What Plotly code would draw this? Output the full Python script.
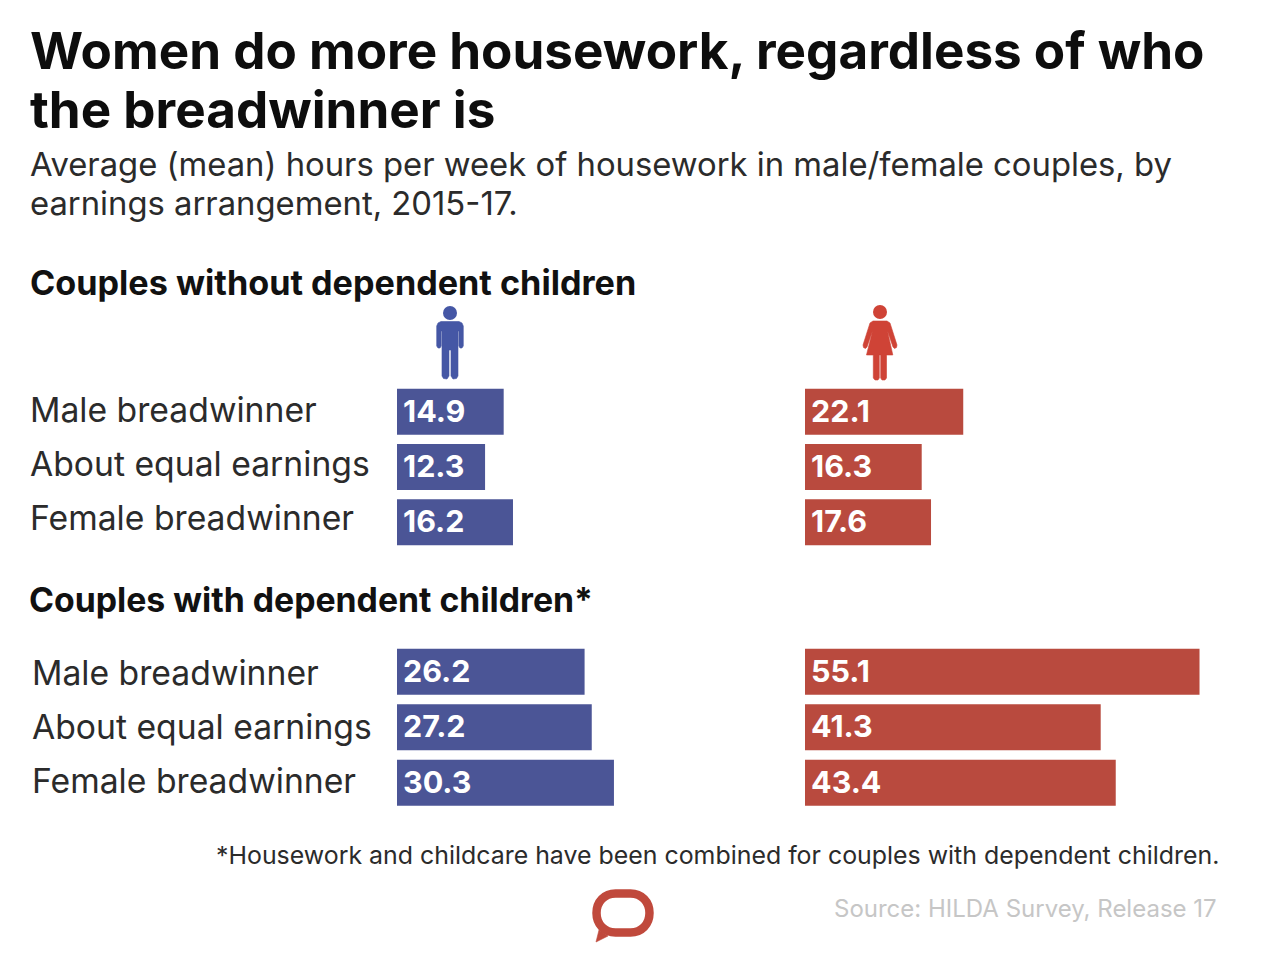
import plotly.graph_objects as go

W, H = 1280, 973
FONT = "Inter"
categories = ["Male breadwinner", "About equal earnings", "Female breadwinner"]
men_no_children = [14.9, 12.3, 16.2]
women_no_children = [22.1, 16.3, 17.6]
men_children = [26.2, 27.2, 30.3]
women_children = [55.1, 41.3, 43.4]
BLUE, RED = "#4b5596", "#b94a3e"

def fx(p): return p / W
def fy(p): return 1 - p / H

fig = go.Figure()
panels = [
    (men_no_children, "x", "y", BLUE),
    (women_no_children, "x2", "y", RED),
    (men_children, "x", "y2", BLUE),
    (women_children, "x2", "y2", RED),
]
ann = []
for vals, xa, ya, col in panels:
    fig.add_bar(x=vals, y=categories, orientation="h", xaxis=xa, yaxis=ya,
                marker=dict(color=col, line=dict(width=0)), width=0.83,
                showlegend=False, hoverinfo="skip")
    for c, v in zip(categories, vals):
        ann.append(dict(x=0, y=c, xref=xa, yref=ya, text=f"{v:.1f}", showarrow=False,
                        xanchor="left", yanchor="middle", xshift=4, yshift=1.5,
                        font=dict(family=FONT, size=30.5, color="white", weight=700)))

def T(x, y, s, size, color="#1c1c1c", bold=False, anchor="left"):
    return dict(x=fx(x + (-2.5 if anchor == "left" else 2.5)), y=fy(y), xref="paper", yref="paper",
                text=s, showarrow=False, xanchor=anchor, yanchor="middle", align="left",
                font=dict(family=FONT, size=size, color=color, weight=700 if bold else 400))

ann += [
    T(30, 50, "Women do more housework, regardless of who", 51.2, "#0d0d0d", True),
    T(30, 109, "the breadwinner is", 51.2, "#0d0d0d", True),
    T(30, 164, "Average (mean) hours per week of housework in male/female couples, by", 32.8, "#2b2b2b"),
    T(30, 203, "earnings arrangement, 2015-17.", 32.8, "#2b2b2b"),
    T(30, 283, "Couples without dependent children", 34.2, "#111111", True),
    T(29, 599.5, "Couples with dependent children*", 33.8, "#111111", True),
    T(1218, 855, "*Housework and childcare have been combined for couples with dependent children.", 24.9, "#2b2b2b", anchor="right"),
    T(1216, 908, "Source: HILDA Survey, Release 17", 24, "#c6c6c6", anchor="right"),
]
for c, yc in zip(categories, [409, 463, 517]):
    ann.append(T(30, yc, c, 33.7, "#2b2b2b"))
for c, yc in zip(categories, [672, 726, 780]):
    ann.append(T(32, yc, c, 33.7, "#2b2b2b"))

def P(*pts):
    return "M" + " L".join(f"{fx(a):.5f},{fy(b):.5f}" for a, b in pts) + " Z"

def circle(cx, cy, r, col):
    return dict(type="circle", xref="paper", yref="paper", x0=fx(cx-r), x1=fx(cx+r),
                y0=fy(cy+r), y1=fy(cy-r), fillcolor=col, line=dict(width=0))

def poly(col, *pts):
    return dict(type="path", xref="paper", yref="paper", path=P(*pts), fillcolor=col,
                line=dict(color=col, width=0.6), layer="above")

MC, WC = "#4557a5", "#cf4336"
shapes = [
    circle(450, 313, 7, MC),
    poly(MC, (441, 321.5), (459, 321.5), (462, 323), (463.3, 326), (463.3, 346), (462, 348),
         (460, 348), (458.8, 346), (458.8, 331), (458, 331), (458, 376), (456.5, 378.5), (453, 379),
         (451, 376), (451, 350), (449, 350), (449, 376), (447, 379), (443.5, 378.5), (442, 376),
         (442, 331), (441.2, 331), (441.2, 346), (440, 348), (438, 348), (436.7, 346), (436.7, 326),
         (438, 323)),
    circle(880, 312, 7, WC),
    poly(WC, (873, 321), (887, 321), (890, 323), (897, 345), (896.5, 347.5), (894.5, 348.5), (893, 347),
         (887.5, 331), (892.8, 355), (886.5, 355), (886.5, 378), (885, 380), (882, 380), (880.7, 378),
         (880.7, 355), (879.3, 355), (879.3, 378), (878, 380), (875, 380), (873.3, 378), (873.3, 355),
         (866.5, 355), (872.5, 331), (867, 347), (865.5, 348.5), (863.5, 347.5), (863, 345), (870, 323)),
]

# logo: speech bubble ring with tail
lc = "#c0493c"
def bubble(x0, y0, x1, y1, rx):
    ym = (y0 + y1) / 2
    ry = (y1 - y0) / 2
    c = 0.42
    f = lambda a, b: f"{fx(a):.5f},{fy(b):.5f}"
    return (f"M{f(x0+rx, y0)} L{f(x1-rx, y0)} "
            f"C{f(x1-rx*c, y0)} {f(x1, y0+ry*c)} {f(x1, ym)} "
            f"C{f(x1, y1-ry*c)} {f(x1-rx*c, y1)} {f(x1-rx, y1)} "
            f"L{f(x0+rx, y1)} C{f(x0+rx*c, y1)} {f(x0, y1-ry*c)} {f(x0, ym)} "
            f"C{f(x0, y0+ry*c)} {f(x0+rx*c, y0)} {f(x0+rx, y0)} Z")
shapes.append(dict(type="path", xref="paper", yref="paper", path=bubble(596.5, 893.5, 649.5, 932.5, 19),
                   fillcolor="rgba(0,0,0,0)", line=dict(color=lc, width=8.5)))
shapes.append(poly(lc, (599, 930), (608, 936), (596, 942)))

fig.update_layout(
    width=W, height=H, margin=dict(l=0, r=0, t=0, b=0), paper_bgcolor="white", plot_bgcolor="white",
    showlegend=False, annotations=ann, shapes=shapes,
    xaxis=dict(domain=[fx(397), fx(397 + 60 * 7.16)], range=[0, 60], visible=False),
    xaxis2=dict(domain=[fx(805), fx(805 + 60 * 7.16)], range=[0, 60], visible=False),
    yaxis=dict(domain=[fy(550), fy(384)], range=[2.5, -0.5], type="category",
               categoryorder="array", categoryarray=categories, visible=False),
    yaxis2=dict(domain=[fy(810.5), fy(644)], range=[2.5, -0.5], type="category",
                categoryorder="array", categoryarray=categories, visible=False),
    font=dict(family=FONT),
)
fig.write_html("out.html", config=dict(displayModeBar=False),
               post_script="document.body.style.margin='0';window.dispatchEvent(new Event('resize'));")
